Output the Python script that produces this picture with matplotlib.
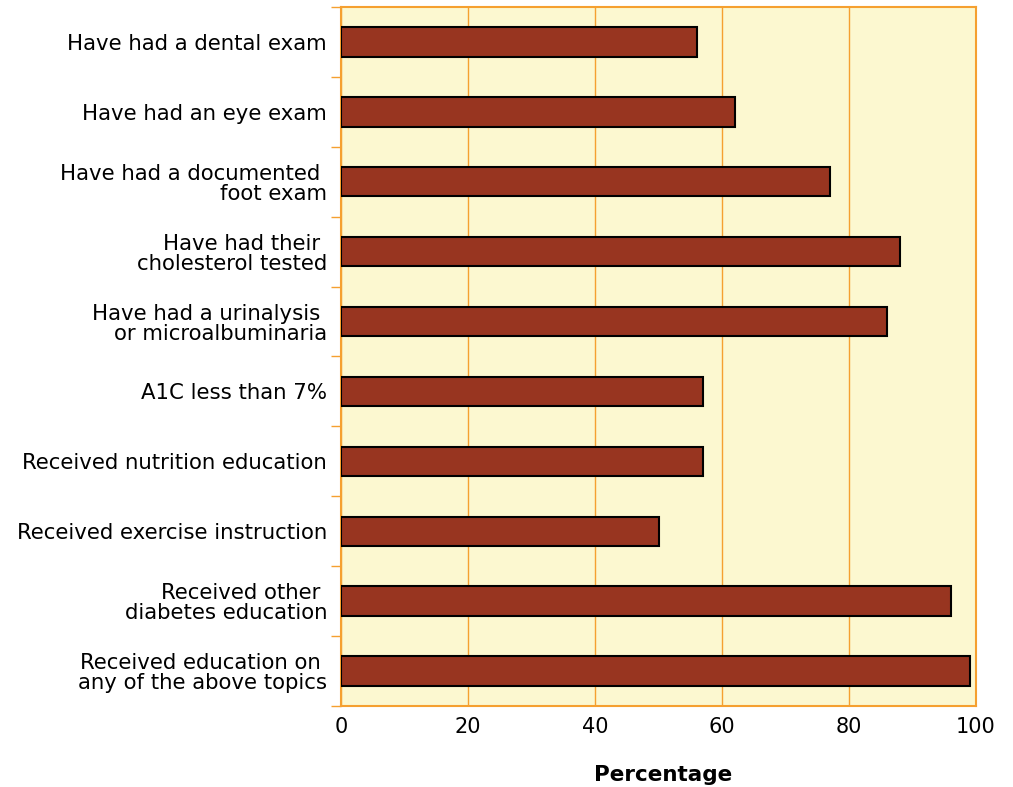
import matplotlib
matplotlib.use("Agg")
import matplotlib.pyplot as plt
import numpy as np

categories = [
    "Have had a dental exam",
    "Have had an eye exam",
    "Have had a documented \nfoot exam",
    "Have had their \ncholesterol tested",
    "Have had a urinalysis \nor microalbuminaria",
    "A1C less than 7%",
    "Received nutrition education",
    "Received exercise instruction",
    "Received other \ndiabetes education",
    "Received education on \nany of the above topics",
]
values = [56, 62, 77, 88, 86, 57, 57, 50, 96, 99]
x_ticks = [0, 20, 40, 60, 80, 100]

bg = "#FCF8D0"
bar_color = "#983520"
orange = "#F5A030"

plt.rcParams["font.family"] = ["DejaVu Sans"]

fig = plt.figure(figsize=(10.13, 7.87), dpi=100)
ax = fig.add_axes([341 / 1013, 1 - 706 / 787, (976 - 341) / 1013, (706 - 7) / 787])
ax.set_facecolor(bg)

n = len(categories)
y = np.arange(n)
ax.barh(y, values, height=0.42, color=bar_color, edgecolor="black", linewidth=1.5, zorder=3)

ax.set_xlim(0, 100)
ax.set_ylim(n - 0.5, -0.5)
ax.set_xticks(x_ticks)
ax.set_xticklabels([str(t) for t in x_ticks], fontsize=15)
ax.set_yticks(y)
ax.set_yticklabels(categories, fontsize=15.3, ha="right", linespacing=1.0)
ax.set_yticks(np.arange(-0.5, n, 1.0), minor=True)

ax.tick_params(axis="y", which="major", length=0, pad=10)
ax.tick_params(axis="y", which="minor", length=7, color=orange, width=1)
ax.tick_params(axis="x", length=0, pad=8)

ax.grid(axis="x", color=orange, linewidth=1, zorder=1)
for s in ax.spines.values():
    s.set_color(orange)
    s.set_linewidth(1.5)

ax.set_xlabel("Percentage", fontsize=15.5, fontweight="bold")
ax.xaxis.set_label_coords(0.508, -0.084)

fig.savefig("out.png", dpi=100)
